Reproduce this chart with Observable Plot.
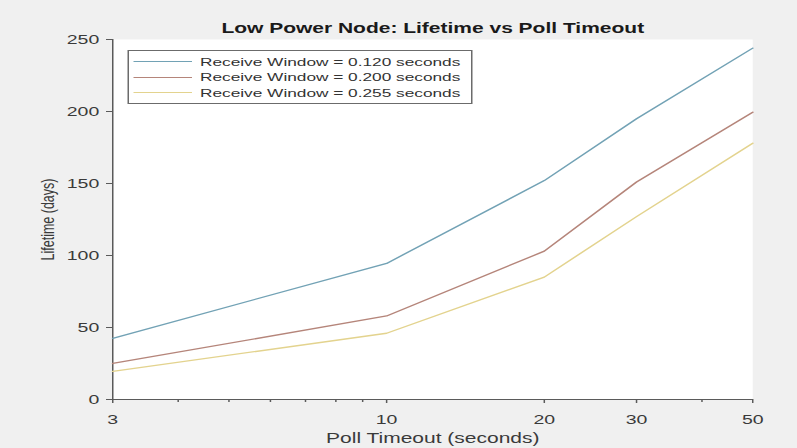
<!DOCTYPE html>
<html>
<head>
<meta charset="utf-8">
<script src="https://cdn.jsdelivr.net/npm/d3@7"></script>
<script src="https://cdn.jsdelivr.net/npm/@observablehq/plot@0.6"></script>
<style>
  html, body { margin: 0; padding: 0; background: #f0f0f0; }
  #wrap { position: relative; height: 448px; transform: scaleX(1.5); transform-origin: 0 0; background: #f0f0f0; overflow: hidden; }
  #legend { position: absolute; box-sizing: border-box; background: #fff; border: 1px solid #6b6b6b; padding-top: 3px;
            font-family: "Liberation Sans", Arial, sans-serif; font-size: 11.5px; color: #333; }
  #legend .row { display: flex; align-items: center; height: 15.5px; white-space: nowrap; }
  #legend .sw { display: inline-block; width: 39px; height: 0; margin-left: 3px; border-top: 1.3px solid; }
  #legend .lab { margin-left: 5px; }
</style>
</head>
<body>
<div id="wrap"></div>
<script>
// ---- data ----
const pollTimeout = [3, 10, 20, 30, 50];
const seriesNames = [
  "Receive Window = 0.120 seconds",
  "Receive Window = 0.200 seconds",
  "Receive Window = 0.255 seconds"
];
const lifetime120 = [42.5, 94.5, 152, 195, 244];
const lifetime200 = [25, 58, 103, 151, 199.5];
const lifetime255 = [19.5, 46, 85, 127, 178];
const seriesColors = ["#72a2b5", "#b5857a", "#e3d38e"];
const xMajorTicks = [3, 10, 20, 30, 50];
const xMinorTicks = [4, 5, 6, 7, 8, 9, 40];
const yTicks = [0, 50, 100, 150, 200, 250];
const titleText = "Low Power Node: Lifetime vs Poll Timeout";
const xLabel = "Poll Timeout (seconds)";
const yLabel = "Lifetime (days)";

// ---- build table ----
const seriesValues = [lifetime120, lifetime200, lifetime255];
const rows = [];
seriesNames.forEach((name, s) => {
  pollTimeout.forEach((t, i) => rows.push({series: name, x: t, y: seriesValues[s][i]}));
});

// layout: drawn compressed, then stretched horizontally 1.5x like the reference
const SX = 1.5, W = 797, H = 448;
const w = W / SX;
const wrap = document.getElementById("wrap");
wrap.style.width = w + "px";

const axisColor = "#5a5a5a";
const chart = Plot.plot({
  width: w,
  height: H,
  marginTop: 39,
  marginBottom: 49,
  marginLeft: 112 / SX,
  marginRight: (W - 752) / SX,
  x: {type: "log", domain: [3, 50]},
  y: {domain: [0, 250]},
  color: {domain: seriesNames, range: seriesColors},
  style: {background: "transparent", fontFamily: "'Liberation Sans', Arial, sans-serif", fontSize: "13px", color: "#333", overflow: "visible"},
  marks: [
    Plot.frame({fill: "white", stroke: null}),
    Plot.axisX({ticks: xMajorTicks, tickSize: 4, tickPadding: 11, tickFormat: d => String(d), label: null, stroke: axisColor, fill: "#3a3a3a", fontSize: 13}),
    Plot.axisX({ticks: xMinorTicks, tickSize: 3, tickFormat: () => "", label: null, stroke: axisColor}),
    Plot.axisY({ticks: yTicks, tickSize: 4, tickPadding: 5, label: null, stroke: axisColor, fill: "#3a3a3a", fontSize: 13}),
    Plot.ruleX([3], {stroke: axisColor, strokeWidth: 1}),
    Plot.ruleY([0], {stroke: axisColor, strokeWidth: 1}),
    Plot.line(rows, {x: "x", y: "y", z: "series", stroke: "series", strokeWidth: 1.3}),
    Plot.text([titleText], {text: d => d, frameAnchor: "top", textAnchor: "middle", lineAnchor: "bottom", dy: -6, fontWeight: "bold", fontSize: 14, fill: "#1a1a1a"}),
    Plot.text([xLabel], {text: d => d, frameAnchor: "bottom", textAnchor: "middle", lineAnchor: "middle", dy: 39, fontSize: 14, fill: "#3a3a3a"}),
    Plot.text([yLabel], {text: d => d, frameAnchor: "left", textAnchor: "middle", lineAnchor: "middle", rotate: -90, dx: -(112 - 47) / SX, fontSize: 12.5, fill: "#3a3a3a"})
  ]
});
chart.style.position = "absolute";
chart.style.left = "0";
chart.style.top = "0";
wrap.appendChild(chart);

// legend
const legend = document.createElement("div");
legend.id = "legend";
legend.style.left = (128 / SX) + "px";
legend.style.top = "50px";
legend.style.width = ((472 - 128) / SX) + "px";
legend.style.height = "54px";
seriesNames.forEach((name, i) => {
  const row = document.createElement("div");
  row.className = "row";
  const sw = document.createElement("span");
  sw.className = "sw";
  sw.style.borderTopColor = seriesColors[i];
  const lab = document.createElement("span");
  lab.className = "lab";
  lab.textContent = name;
  row.appendChild(sw);
  row.appendChild(lab);
  legend.appendChild(row);
});
wrap.appendChild(legend);
</script>
</body>
</html>
